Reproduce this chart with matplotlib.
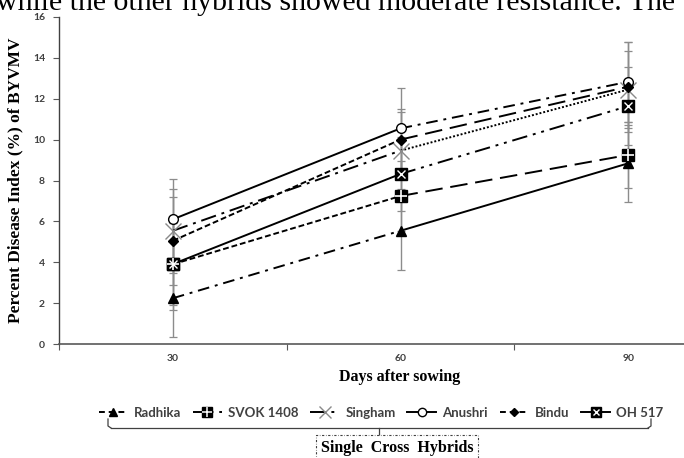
import matplotlib
matplotlib.use("Agg")
import matplotlib.pyplot as plt
from matplotlib.lines import Line2D

days = ["30", "60", "90"]
hybrids = ["Radhika", "SVOK 1408", "Singham", "Anushri", "Bindu", "OH 517"]

radhika = [2.24, 5.54, 8.84]
svok = [3.9, 7.24, 9.25]
singham = [5.54, 9.46, 12.45]
anushri = [6.1, 10.55, 12.83]
bindu = [5.05, 10.0, 12.59]
oh517 = [3.91, 8.32, 11.64]

radhika_err = [1.91, 1.9, 1.88]
svok_err = [2.0, 1.7, 1.6]
singham_err = [2.06, 1.9, 1.9]
anushri_err = [1.96, 2.0, 1.96]
bindu_err = [2.15, 1.5, 2.2]
oh517_err = [2.25, 1.8, 1.9]

W, H = 684, 458


def fx(px):
    return px / W


def fy(py):
    return 1 - py / H


dash_dot = (0, (6, 3, 1.5, 3))
long_dash_dot = (0, (8, 3, 1.5, 3))
short_dash = (0, (3, 1.5))
long_dash = (0, (9, 4))
dotted = (0, (1, 1))
dash_dot_dot = (0, (8, 3, 1.5, 3, 1.5, 3))

series = [
    (radhika, radhika_err, [dash_dot, "-"]),
    (svok, svok_err, [short_dash, long_dash]),
    (singham, singham_err, [long_dash_dot, dotted]),
    (anushri, anushri_err, ["-", dash_dot]),
    (bindu, bindu_err, [short_dash, long_dash]),
    (oh517, oh517_err, ["-", dash_dot_dot]),
]

fig = plt.figure(figsize=(6.84, 4.58), dpi=100)
ax = fig.add_axes([fx(59), fy(344), fx(742) - fx(59), fy(17) - fy(344)])

x = [0.5, 1.5, 2.5]

# error bars first (grey, behind)
for vals, err, _ in series:
    ax.errorbar(x, vals, yerr=err, fmt="none", ecolor="#8c8c8c",
                elinewidth=1.0, capsize=3, capthick=0.9, zorder=1)

# per-segment line styles
for vals, err, styles in series:
    for i, ls in enumerate(styles):
        ax.plot(x[i:i + 2], vals[i:i + 2], color="black", lw=1.4,
                linestyle=ls, zorder=2)

# markers
ax.plot(x, radhika, "^", color="black", ms=7, ls="none", zorder=4)
ax.plot(x, svok, "s", color="black", ms=8, ls="none", zorder=4)
ax.plot(x, svok, "+", color="white", ms=8, mew=1.2, ls="none", zorder=5)
ax.plot(x, singham, "x", color="#8a8a8a", ms=11, mew=1.0, ls="none", zorder=4)
ax.plot(x, anushri, "o", mfc="white", mec="black", ms=7, mew=1.0,
        ls="none", zorder=4)
ax.plot(x, bindu, "D", color="black", ms=5, ls="none", zorder=4)
ax.plot(x, oh517, "s", color="black", ms=9, ls="none", zorder=4)
ax.plot(x, oh517, "x", color="white", ms=6, mew=1.0, ls="none", zorder=5)

ax.set_xlim(0, 3)
ax.set_ylim(0, 16)
ax.set_yticks(range(0, 17, 2))
ax.set_xticks([0, 1, 2, 3])
ax.set_xticklabels([])
ax.set_xticks(x, minor=True)
ax.set_xticklabels(days, minor=True)
ax.tick_params(axis="x", which="minor", length=0, pad=7)
ax.tick_params(axis="x", which="major", length=4, color="#595959")
ax.tick_params(axis="y", length=4, color="#595959", pad=6)
for lab in ax.get_yticklabels() + ax.get_xticklabels(minor=True):
    lab.set_fontfamily("Lato")
    lab.set_fontweight("bold")
    lab.set_fontsize(7.5)
    lab.set_color("#404040")

for s in ["top", "right"]:
    ax.spines[s].set_visible(False)
ax.spines["left"].set_color("#404040")
ax.spines["bottom"].set_color("#595959")
ax.spines["left"].set_linewidth(1.0)
ax.spines["bottom"].set_linewidth(1.2)

ax.set_ylabel("Percent Disease Index (%) of BYVMV", fontfamily="Liberation Serif",
              fontweight="bold", fontsize=12.5)
ax.yaxis.set_label_coords(-0.052, 0.5)
fig.text(fx(400), fy(377), "Days after sowing", fontfamily="Liberation Serif",
         fontweight="bold", fontsize=11.5, ha="center", va="center")

# legend
handles = [
    Line2D([], [], color="black", lw=1.4, ls=(0, (3, 2)), marker="^", ms=6),
    (Line2D([], [], color="black", lw=1.4, ls=dash_dot, marker="s", ms=7),
     Line2D([], [], color="white", lw=0, marker="+", ms=7, mew=1.1)),
    Line2D([], [], color="black", lw=1.4, ls=long_dash_dot, marker="x", ms=8,
           mec="#8a8a8a", mew=1.0),
    Line2D([], [], color="black", lw=1.4, ls="-", marker="o", ms=6, mfc="white",
           mec="black"),
    Line2D([], [], color="black", lw=1.4, ls=(0, (3, 2)), marker="D", ms=4),
    (Line2D([], [], color="black", lw=1.4, ls="-", marker="s", ms=7),
     Line2D([], [], color="white", lw=0, marker="x", ms=5, mew=1.0)),
]
leg = fig.legend(handles, hybrids, loc="center", bbox_to_anchor=(fx(381), fy(413)),
                 ncol=6, frameon=False, handlelength=2.2, handletextpad=0.45,
                 columnspacing=0.9, prop={"family": "Lato", "weight": "bold", "size": 9.5})
for t in leg.get_texts():
    t.set_color("#404040")

# brace under legend
brace_col = "#404040"
fig.add_artist(Line2D([fx(108), fx(108), fx(111)], [fy(419), fy(426), fy(428)],
                      color=brace_col, lw=0.9))
fig.add_artist(Line2D([fx(111), fx(648)], [fy(428), fy(428)], color=brace_col, lw=0.9))
fig.add_artist(Line2D([fx(648), fx(651), fx(651)], [fy(428), fy(426), fy(419)],
                      color=brace_col, lw=0.9))
fig.add_artist(Line2D([fx(379), fx(379)], [fy(428), fy(439)], color=brace_col, lw=0.9))

fig.text(fx(397), fy(448), "Single  Cross  Hybrids", fontfamily="Liberation Serif",
         fontweight="bold", fontsize=11.5, ha="center", va="center",
         bbox=dict(boxstyle="square,pad=0.3", fc="white", ec="#404040",
                   ls=(0, (2, 1.5, 0.5, 1.5)), lw=0.8))

# cropped paragraph line at the top of the picture
fig.text(fx(-4), fy(10), "while the other hybrids showed moderate resistance. The",
         fontfamily="Liberation Serif", fontsize=21.5, ha="left", va="baseline")

fig.savefig("out.png", dpi=100)
